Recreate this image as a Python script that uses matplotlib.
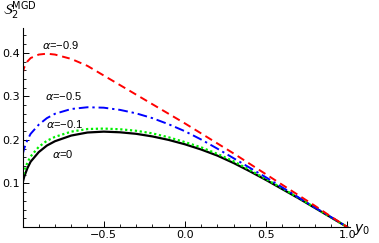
import matplotlib
matplotlib.use("Agg")
import matplotlib.pyplot as plt
from matplotlib.ticker import MultipleLocator, FixedLocator

y0 = [-1.0, -0.99, -0.97, -0.95, -0.9, -0.85, -0.8, -0.7, -0.6, -0.5, -0.4, -0.3,
      -0.2, -0.1, 0.0, 0.1, 0.2, 0.3, 0.4, 0.5, 0.6, 0.7, 0.8, 0.9, 1.0]

s_a09 = [0.352, 0.366, 0.380, 0.388, 0.396, 0.398, 0.396, 0.386, 0.370, 0.348,
         0.326, 0.304, 0.282, 0.260, 0.238, 0.215, 0.192, 0.169, 0.145, 0.121,
         0.097, 0.073, 0.049, 0.024, 0.0]
s_a05 = [0.165, 0.180, 0.200, 0.214, 0.235, 0.250, 0.260, 0.271, 0.275, 0.274,
         0.269, 0.261, 0.250, 0.236, 0.220, 0.201, 0.180, 0.158, 0.136, 0.114,
         0.091, 0.068, 0.045, 0.023, 0.0]
s_a01 = [0.110, 0.128, 0.148, 0.162, 0.184, 0.198, 0.207, 0.219, 0.225, 0.226,
         0.2245, 0.221, 0.215, 0.206, 0.195, 0.183, 0.168, 0.151, 0.131, 0.110,
         0.089, 0.067, 0.045, 0.022, 0.0]
s_a0 = [0.100, 0.115, 0.135, 0.150, 0.172, 0.187, 0.197, 0.210, 0.217, 0.219,
        0.2175, 0.214, 0.208, 0.200, 0.190, 0.178, 0.164, 0.147, 0.128, 0.108,
        0.087, 0.066, 0.044, 0.022, 0.0]

labels = ["$\\alpha$=\u22120.9", "$\\alpha$=\u22120.5", "$\\alpha$=\u22120.1", "$\\alpha$=0"]
label_pos = [(-0.766, 0.418), (-0.748, 0.300), (-0.738, 0.237), (-0.754, 0.168)]

fig = plt.figure(figsize=(3.79, 2.43), dpi=100)
ax = fig.add_axes([0.0594, 0.0658, 0.864, 0.819])

ax.plot(y0, s_a0, color="black", lw=1.6, ls="-")
ax.plot(y0, s_a01, color="#00ee00", lw=1.6, ls=(0, (1, 1.2)))
ax.plot(y0, s_a05, color="#0000ff", lw=1.4, ls=(0, (5, 2, 1.2, 2)))
ax.plot(y0, s_a09, color="#ff0000", lw=1.4, ls=(0, (4, 2.5)))

for t, (x, y) in zip(labels, label_pos):
    ax.text(x, y, t, fontsize=8, family="Liberation Sans", ha="center", va="center")

ax.set_xlim(-1.0, 1.017)
ax.set_ylim(0.0, 0.457)
for s in ["top", "right"]:
    ax.spines[s].set_visible(False)
for s in ["left", "bottom"]:
    ax.spines[s].set_linewidth(0.8)

ax.xaxis.set_major_locator(FixedLocator([-0.5, 0.0, 0.5, 1.0]))
ax.xaxis.set_minor_locator(MultipleLocator(0.1))
ax.yaxis.set_major_locator(FixedLocator([0.1, 0.2, 0.3, 0.4]))
ax.yaxis.set_minor_locator(MultipleLocator(0.02))
ax.set_xticklabels(["\u22120.5", "0.0", "0.5", "1.0"])
ax.set_yticklabels(["0.1", "0.2", "0.3", "0.4"])
ax.tick_params(which="major", direction="in", length=4, width=0.7, labelsize=8, pad=2)
ax.tick_params(which="minor", direction="in", length=2.3, width=0.6)

fig.text(0.935, 0.055, "$y_0$", fontsize=10, ha="left", va="center")
fig.text(0.008, 0.955, "$\\mathcal{S}_2^{\\mathrm{MGD}}$", fontsize=10, ha="left", va="center")

fig.savefig("out.png", dpi=100)
